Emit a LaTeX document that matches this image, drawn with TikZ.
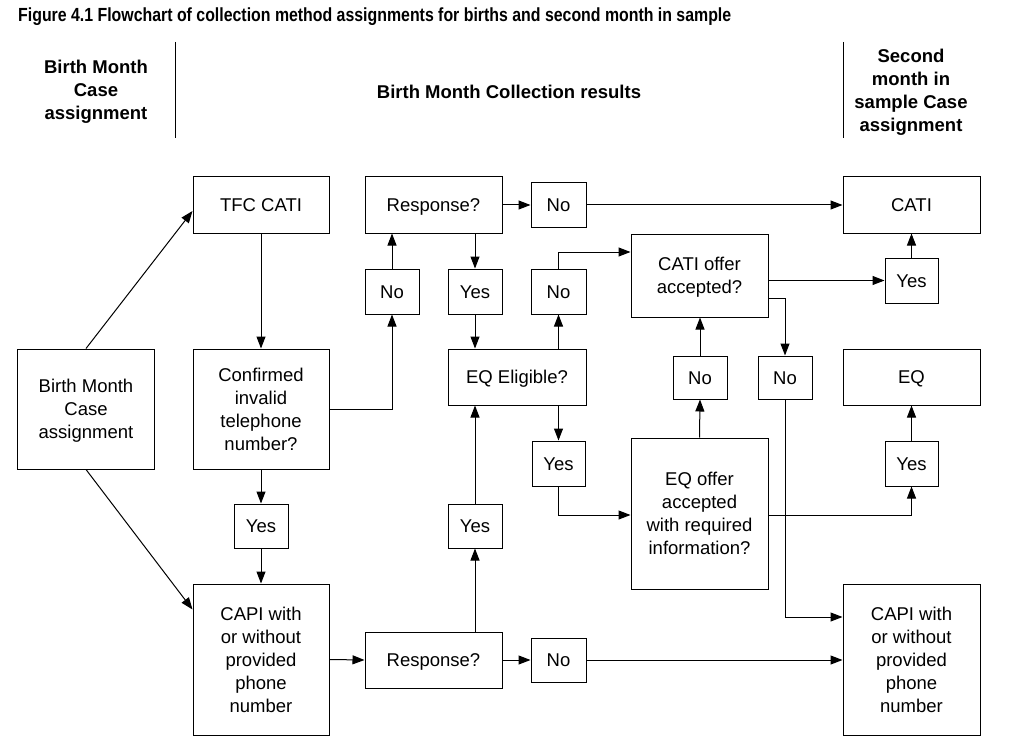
\documentclass[tikz,border=0pt]{standalone}
\usepackage{fontspec}
\setmainfont{Liberation Sans}
\usetikzlibrary{arrows.meta}
\begin{document}
\begin{tikzpicture}[x=1pt,y=-1pt,
  box/.style={draw, line width=1pt, align=center, inner sep=0pt, text depth=0pt, font=\fontsize{18.5}{23}\selectfont},
  one/.style={box, text height=13.3pt},
  hd/.style={align=center, inner sep=0pt, font=\fontsize{18.5}{23}\selectfont\bfseries},
  arr/.style={-{Triangle[length=12pt,width=9pt]}, line width=1pt},
  sep/.style={line width=0.8pt}]
\useasboundingbox (0,0) rectangle (1014,754);
% title
\node[anchor=west, inner sep=0pt] (title) at (18,17) {\resizebox{713pt}{\height}{\fontsize{19}{21}\selectfont\bfseries Figure 4.1 Flowchart of collection method assignments for births and second month in sample}};
% headers
\node[hd] (h1) at (96,92) {Birth Month\\Case\\assignment};
\node[hd] (h2) at (509,92) {Birth Month Collection results};
\node[hd] (h3) at (911,92.5) {Second\\month in\\sample Case\\assignment};
\draw[sep] (175,42) -- (175,138);
\draw[sep] (843,42) -- (843,138);
% boxes
\node[box, minimum width=137pt, minimum height=120pt] (bm) at (86,409) {Birth Month\\Case\\assignment};
\node[one, minimum width=136pt, minimum height=56pt] (tfc) at (261,205) {TFC CATI};
\node[box, minimum width=136pt, minimum height=120pt] (conf) at (261,409) {Confirmed\\invalid\\telephone\\number?};
\node[one, minimum width=54pt, minimum height=44pt] (yes1) at (261,526) {Yes};
\node[box, minimum width=136pt, minimum height=151pt] (capiL) at (261,659.5) {CAPI with\\or without\\provided\\phone\\number};
\node[one, minimum width=137pt, minimum height=56pt] (resp1) at (433.5,205) {Response?};
\node[one, minimum width=55pt, minimum height=44pt] (no1) at (558.5,205) {No};
\node[one, minimum width=54pt, minimum height=45pt] (noA) at (392,291.5) {No};
\node[one, minimum width=54pt, minimum height=45pt] (yesA) at (475,291.5) {Yes};
\node[one, minimum width=55pt, minimum height=45pt] (noB) at (558.5,291.5) {No};
\node[one, minimum width=138pt, minimum height=56pt] (eqe) at (517,377) {EQ Eligible?};
\node[box, minimum width=137pt, minimum height=83pt] (catio) at (699.5,275.5) {CATI offer\\accepted?};
\node[one, minimum width=53pt, minimum height=45pt] (yesB) at (558.5,463.5) {Yes};
\node[one, minimum width=54pt, minimum height=43pt] (noC) at (700,377.5) {No};
\node[one, minimum width=54pt, minimum height=43pt] (noD) at (785,377.5) {No};
\node[box, minimum width=137pt, minimum height=151pt] (eqo) at (699.5,513.5) {EQ offer\\accepted\\with required\\information?};
\node[one, minimum width=137pt, minimum height=56pt] (cati) at (911.5,205) {CATI};
\node[one, minimum width=53pt, minimum height=45pt] (yesR1) at (911.5,280.5) {Yes};
\node[one, minimum width=137pt, minimum height=56pt] (eq) at (911.5,377) {EQ};
\node[one, minimum width=53pt, minimum height=45pt] (yesR2) at (911.5,463.5) {Yes};
\node[box, minimum width=137pt, minimum height=151pt] (capiR) at (911.5,659.5) {CAPI with\\or without\\provided\\phone\\number};
\node[one, minimum width=137pt, minimum height=56pt] (resp2) at (433.5,660) {Response?};
\node[one, minimum width=55pt, minimum height=44pt] (no2) at (558.5,660) {No};
\node[one, minimum width=54pt, minimum height=44pt] (yesC) at (475,526) {Yes};
% connectors
\draw[arr] (bm.north) -- ([yshift=-6pt]tfc.west);
\draw[arr] (bm.south) -- ([yshift=-26pt]capiL.north west);
\draw[arr] (tfc.south) -- (conf.north);
\draw[arr] (conf.south) -- (yes1.north);
\draw[arr] (yes1.south) -- (capiL.north);
\draw[arr] (conf.east) -| (noA.south);
\draw[arr] (noA.north) -- (noA.north |- resp1.south);
\draw[arr] (yesA.north |- resp1.south) -- (yesA.north);
\draw[arr] (yesA.south) -- (yesA.south |- eqe.north);
\draw[arr] (resp1.east) -- (no1.west);
\draw[arr] (no1.east) -- (cati.west);
\draw[arr] (noB.south |- eqe.north) -- (noB.south);
\draw[arr] (noB.north) |- ([yshift=23.5pt]catio.west);
\draw[arr] (yesB.north |- eqe.south) -- (yesB.north);
\draw[arr] (yesB.south) |- ([yshift=-1.5pt]eqo.west);
\draw[arr] (eqo.north) -- (noC.south);
\draw[arr] (noC.north) -- (noC.north |- catio.south);
\draw[arr] (catio.east |- yesR1.west) -- (yesR1.west);
\draw[arr] (yesR1.north) -- (cati.south);
\draw[arr] ([yshift=-22.5pt]catio.east) -| (noD.north);
\draw[arr] (noD.south) |- ([yshift=42.5pt]capiR.west);
\draw[arr] ([yshift=-2pt]eqo.east) -| (yesR2.south);
\draw[arr] (yesR2.north) -- (eq.south);
\draw[arr] (capiL.east) -- (resp2.west);
\draw[arr] (yesC.south |- resp2.north) -- (yesC.south);
\draw[arr] (yesC.north) -- (yesC.north |- eqe.south);
\draw[arr] (resp2.east) -- (no2.west);
\draw[arr] (no2.east) -- (capiR.west |- no2.east);
\end{tikzpicture}
\end{document}
